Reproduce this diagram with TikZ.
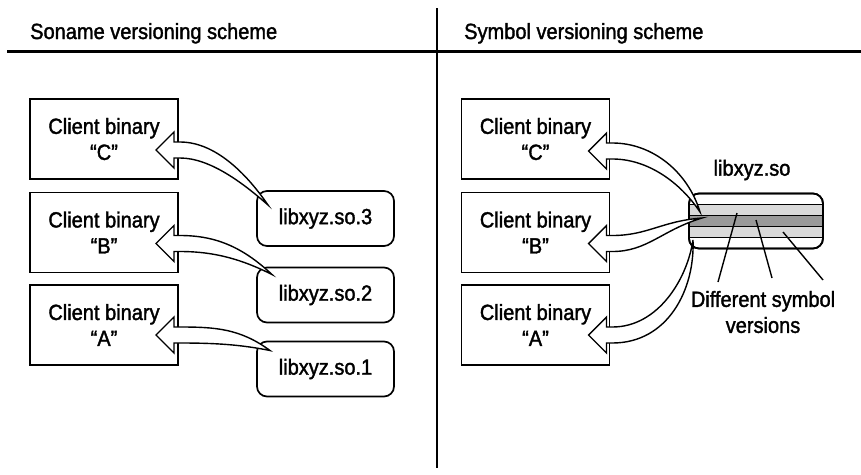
\documentclass[tikz,border=0pt]{standalone}
\usepackage{fontspec}
\setmainfont{Liberation Sans}[FakeStretch=0.91,FakeBold=1.6]
\usetikzlibrary{calc}
\definecolor{lightg}{HTML}{D9D9D9}
\definecolor{darkg}{HTML}{999999}
\newcommand{\blockarrow}[4]{%
\draw[arr] (#2) .. controls #3 .. ($(#1)+(24,-8)$) -- ($(#1)+(18,-8)$) -- ($(#1)+(18,-18)$) -- (#1) -- ($(#1)+(18,18)$) -- ($(#1)+(18,8)$) -- ($(#1)+(24,8)$) .. controls #4 .. (#2) -- cycle;}
\begin{document}
\begin{tikzpicture}[x=1pt,y=-1pt,
  txt/.style={font=\fontsize{22}{26}\selectfont},
  client/.style={txt,draw,line width=1.7pt,minimum width=148pt,minimum height=80pt,align=center,inner sep=0pt,outer sep=0pt},
  lib/.style={txt,draw,line width=1.7pt,rounded corners=10pt,minimum width=137pt,minimum height=55pt,inner sep=0pt,outer sep=0pt},
  arr/.style={draw,fill=white,line width=1.4pt,line join=miter},
  pointer/.style={draw,line width=1.4pt}]
\useasboundingbox (0,0) rectangle (861,474);
% headers
\node[txt,anchor=base west,inner sep=0pt] (t1) at (30,39) {Soname versioning scheme};
\node[txt,anchor=base west,inner sep=0pt] (t2) at (464,39) {Symbol versioning scheme};
\coordinate (hl) at (7,51);
\coordinate (hr) at (861,51);
\draw[line width=3pt] (hl) -- (hr);
\coordinate (vt) at (437,8);
\coordinate (vb) at (437,468);
\draw[line width=1.5pt] (vt) -- (vb);
% left clients
\node[client] (C) at (104,139) {Client binary\\“C”};
\node[client] (B) at (104,232.5) {Client binary\\“B”};
\node[client] (A) at (104,325) {Client binary\\“A”};
\node[lib] (L3) at (325.5,218.5) {libxyz.so.3};
\node[lib] (L2) at (325.5,295) {libxyz.so.2};
\node[lib] (L1) at (325.5,369) {libxyz.so.1};
% right clients
\node[client] (RC) at (535.5,139) {Client binary\\“C”};
\node[client] (RB) at (535.5,232.5) {Client binary\\“B”};
\node[client] (RA) at (535.5,325) {Client binary\\“A”};
% libxyz.so box
\node[txt,inner sep=0pt] (Llab) at (752,170) {libxyz.so};
\node[lib,minimum width=134pt,minimum height=55pt,fill=white] (L) at (756,221) {};
\draw[line width=1.7pt,fill=lightg] ($(L.west)+(0,-16.5)$) rectangle ($(L.east)+(0,-5.5)$);
\draw[line width=1.7pt,fill=darkg] ($(L.west)+(0,-5.5)$) rectangle ($(L.east)+(0,5.5)$);
\draw[line width=1.7pt,fill=lightg] ($(L.west)+(0,5.5)$) rectangle ($(L.east)+(0,16.5)$);
\draw[line width=1.7pt,rounded corners=10pt] (L.north west) rectangle (L.south east);
% tips and sources
\coordinate (tC) at ($(C.east)+(-22,11)$);
\coordinate (tB) at ($(B.east)+(-22,11)$);
\coordinate (tA) at ($(A.east)+(-22,10)$);
\coordinate (sC) at ($(L3.north west)+(11,14)$);
\coordinate (sB) at ($(L2.north west)+(15,7)$);
\coordinate (sA) at ($(L1.north west)+(13,9)$);
\coordinate (rtC) at ($(RC.east)+(-21,12)$);
\coordinate (rtB) at ($(RB.east)+(-21,11)$);
\coordinate (rtA) at ($(RA.east)+(-21,10)$);
\coordinate (rsC) at ($(L.west)+(11,-9)$);
\coordinate (rsB) at ($(L.west)+(13,-3)$);
\coordinate (rsA) at ($(L.west)+(4,19)$);
% left arrows
\blockarrow{tC}{sC}{+(-22,-32) and +(35,0)}{+(30,0) and +(-25,-22)}
\blockarrow{tB}{sB}{+(-30,-28) and +(35,0)}{+(35,0) and +(-30,-15)}
\blockarrow{tA}{sA}{+(-30,-22) and +(35,0)}{+(35,0) and +(-30,-6)}
% right arrows
\blockarrow{rtC}{rsC}{+(-12,-40) and +(40,0)}{+(35,0) and +(-20,-30)}
\blockarrow{rtB}{rsB}{+(-40,3) and +(35,0)}{+(35,0) and +(-40,12)}
\blockarrow{rtA}{rsA}{+(-6,40) and +(45,0)}{+(55,0) and +(2,50)}
% pointers
\node[txt,align=center,inner sep=0pt] (D) at (763,312) {Different symbol\\versions};
\coordinate (p1) at ($(L.center)+(-19,-8)$);
\coordinate (p2) at ($(L.center)+(0,-1)$);
\coordinate (p3) at ($(L.center)+(27,11)$);
\coordinate (e1) at ($(D.center)+(-45,-30)$);
\coordinate (e2) at ($(D.center)+(9,-34)$);
\coordinate (e3) at ($(D.center)+(60,-32)$);
\draw[pointer] (p1) -- (e1);
\draw[pointer] (p2) -- (e2);
\draw[pointer] (p3) -- (e3);
\end{tikzpicture}
\end{document}
